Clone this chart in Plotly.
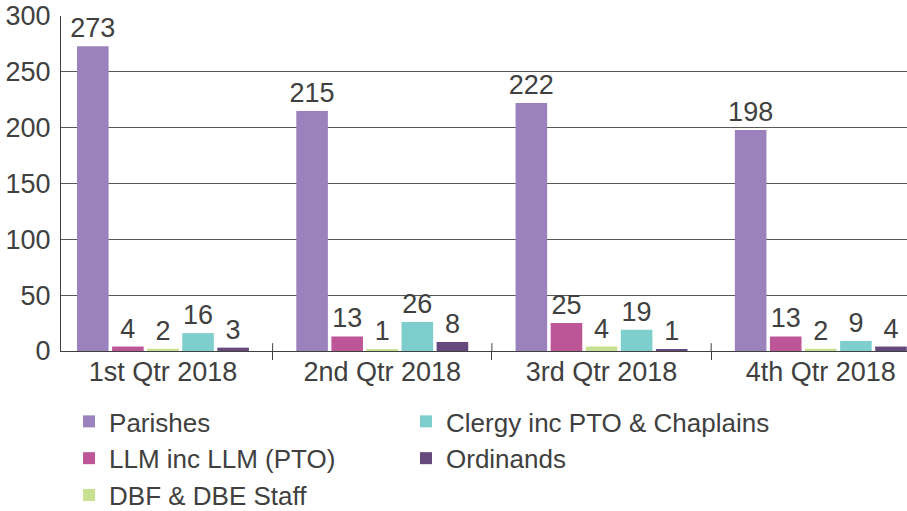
import plotly.graph_objects as go

categories = ["1st Qtr 2018", "2nd Qtr 2018", "3rd Qtr 2018", "4th Qtr 2018"]
series_names = ["Parishes", "LLM inc LLM (PTO)", "DBF & DBE Staff",
                "Clergy inc PTO & Chaplains", "Ordinands"]
parishes = [273, 215, 222, 198]
llm = [4, 13, 25, 13]
dbf_dbe = [2, 1, 4, 2]
clergy = [16, 26, 19, 9]
ordinands = [3, 8, 1, 4]
y_ticks = [0, 50, 100, 150, 200, 250, 300]

colors = ["#9B82BD", "#BC5696", "#C8E092", "#7DCECC", "#65497C"]
values = [parishes, llm, dbf_dbe, clergy, ordinands]
legends = ["legend", "legend", "legend", "legend2", "legend2"]

FONT = "Liberation Sans, Arial, sans-serif"
TXT = "#404040"
FS = 27
LFS = 26

fig = go.Figure()
for name, vals, col, lg in zip(series_names, values, colors, legends):
    fig.add_trace(go.Bar(
        x=categories, y=vals, name=name, marker=dict(color=col, line=dict(width=0)),
        text=[str(v) for v in vals], textposition="outside", constraintext="none",
        textfont=dict(family=FONT, size=FS, color=TXT), cliponaxis=False,
        legend=lg,
    ))

# upper half of the category dividers (crossing the axis)
for b in [0.5, 1.5, 2.5]:
    fig.add_shape(type="line", xref="x", yref="y", x0=b, x1=b, y0=0, y1=7,
                  line=dict(color="#404040", width=1))

fig.update_layout(
    width=907, height=511,
    margin=dict(l=61, r=0, t=16, b=160, autoexpand=False),
    paper_bgcolor="white", plot_bgcolor="white",
    barmode="group", bargap=0.2, bargroupgap=0.1,
    font=dict(family=FONT, size=FS, color=TXT),
    showlegend=True,
    legend=dict(x=0.0095, y=0.2212, xref="paper", yref="container",
                xanchor="left", yanchor="top",
                orientation="v", font=dict(family=FONT, size=LFS, color=TXT),
                bgcolor="rgba(0,0,0,0)", traceorder="normal"),
    legend2=dict(x=0.4078, y=0.2212, xref="paper", yref="container",
                 xanchor="left", yanchor="top",
                 orientation="v", font=dict(family=FONT, size=LFS, color=TXT),
                 bgcolor="rgba(0,0,0,0)", traceorder="normal"),
)
fig.update_xaxes(
    type="category", range=[-0.465, 3.393], automargin=False,
    showline=True, linecolor="#404040", linewidth=1,
    ticks="outside", tickson="boundaries", ticklen=8, tickcolor="#404040",
    ticklabelstandoff=-3,
    showgrid=False, tickfont=dict(family=FONT, size=FS, color=TXT),
)
fig.update_yaxes(
    range=[0, 300], tickvals=y_ticks, automargin=False,
    showline=True, linecolor="#404040", linewidth=1,
    showgrid=True, gridcolor="#595959", gridwidth=1,
    zeroline=True, zerolinecolor="#404040", zerolinewidth=1,
    ticks="", ticklabelstandoff=4,
    tickfont=dict(family=FONT, size=FS, color=TXT),
)

fig.write_html(
    "out.html",
    config={"displayModeBar": False},
    post_script="document.body.style.margin='0';document.body.style.overflow='hidden';",
)
